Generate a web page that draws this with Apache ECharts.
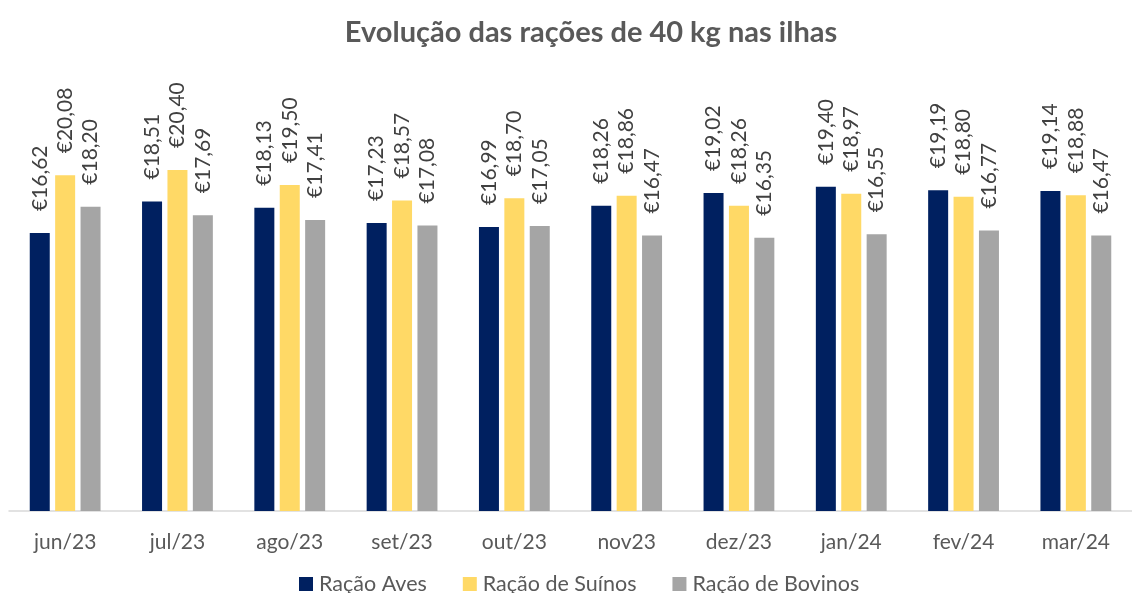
<!DOCTYPE html>
<html>
<head>
<meta charset="utf-8">
<script src="https://cdn.jsdelivr.net/npm/echarts@6/dist/echarts.min.js"></script>
<style>
  html, body { margin: 0; padding: 0; background: #fff; }
  #chart { width: 1132px; height: 593px; }
</style>
</head>
<body>
<div id="chart"></div>
<script>
const meses = ['jun/23', 'jul/23', 'ago/23', 'set/23', 'out/23', 'nov23', 'dez/23', 'jan/24', 'fev/24', 'mar/24']
const racaoAves = [16.62, 18.51, 18.13, 17.23, 16.99, 18.26, 19.02, 19.40, 19.19, 19.14]
const racaoSuinos = [20.08, 20.40, 19.50, 18.57, 18.70, 18.86, 18.26, 18.97, 18.80, 18.88]
const racaoBovinos = [18.20, 17.69, 17.41, 17.08, 17.05, 16.47, 16.35, 16.55, 16.77, 16.47]

const fonte = 'Lato, "Liberation Sans", sans-serif'

// rótulo em euros com vírgula decimal
function euro(p) {
  return '€' + p.value.toFixed(2).replace('.', ',')
}

function serie(nome, dados, cor) {
  return {
    name: nome,
    type: 'bar',
    data: dados,
    barWidth: 20,
    barGap: '27%',
    itemStyle: { color: cor },
    label: {
      show: true,
      position: 'top',
      rotate: 90,
      align: 'left',
      verticalAlign: 'middle',
      distance: 22,
      formatter: euro,
      color: '#404040',
      fontFamily: fonte,
      fontSize: 21
    }
  }
}

var myChart = echarts.init(document.getElementById('chart'))
myChart.setOption({
  backgroundColor: '#fff',
  animation: false,
  title: {
    text: 'Evolução das rações de 40 kg nas ilhas',
    left: 586,
    top: 13,
    textAlign: 'center',
    textStyle: { color: '#595959', fontFamily: fonte, fontWeight: 'bold', fontSize: 29 }
  },
  legend: {
    left: 299,
    top: 573,
    padding: 0,
    itemWidth: 14,
    itemHeight: 14,
    itemGap: 36,
    icon: 'rect',
    textStyle: { color: '#595959', fontFamily: fonte, fontSize: 21.5, padding: [0, 0, 0, 1] }
  },
  grid: { left: 9, right: -11, top: 93, bottom: 82 },
  xAxis: {
    type: 'category',
    data: meses,
    axisLine: { lineStyle: { color: '#d9d9d9', width: 1.5 } },
    axisTick: { show: false },
    axisLabel: { color: '#595959', fontFamily: fonte, fontSize: 21, margin: 21 }
  },
  yAxis: {
    type: 'value',
    min: 0,
    max: 25,
    show: false,
    splitLine: { show: false }
  },
  series: [
    serie('Ração Aves', racaoAves, '#002060'),
    serie('Ração de Suínos', racaoSuinos, '#FFD966'),
    serie('Ração de Bovinos', racaoBovinos, '#A5A5A5')
  ]
})
</script>
</body>
</html>
